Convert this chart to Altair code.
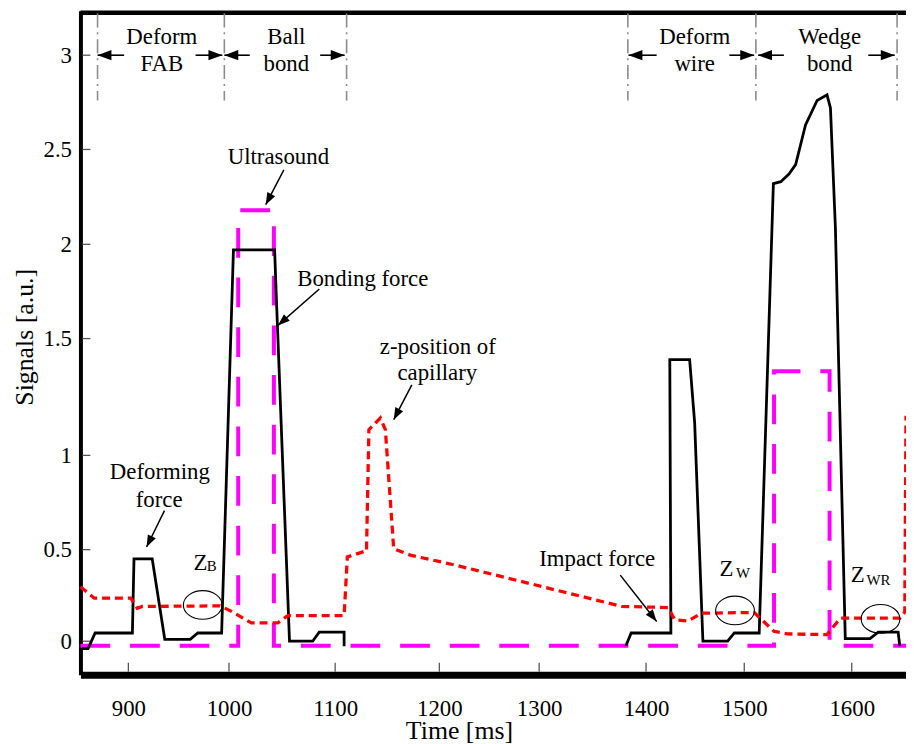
import altair as alt
import pandas as pd

FONT = "Liberation Serif"

# ---------------- data (time in ms, signal in a.u.) ----------------
# Bonding force (black solid); seg splits the two bonding cycles
bond_t = [854, 860, 867, 904, 905.6, 923.7, 936.2, 961.5, 969, 992.7, 1004.2, 1043, 1044.2, 1057, 1078.8, 1085, 1108.6, 1108.6,
          1381.2, 1386.1, 1425.3, 1424.2, 1444.4, 1449.5, 1457.9, 1483.1, 1489.9, 1513.9, 1527.1, 1534, 1541.6, 1547.8,
          1557, 1567.8, 1577, 1580.2, 1584.8, 1594, 1617, 1624.7, 1643.2, 1644.7]
bond_v = [-0.04, -0.04, 0.045, 0.045, 0.45, 0.45, 0.01, 0.01, 0.045, 0.045, 1.97, 1.97, 1.78, 0.0, 0.0, 0.05, 0.05, -0.027,
          -0.024, 0.045, 0.045, 1.41, 1.41, 1.14, 0.0, 0.0, 0.045, 0.045, 2.32, 2.33, 2.37, 2.42,
          2.63, 2.76, 2.79, 2.72, 2.09, 0.014, 0.014, 0.05, 0.05, -0.025]
bond_seg = [0] * 18 + [1] * 24

# Ultrasound (magenta dashed)
us_t = [852.4, 1008.7, 1008.7, 1042.3, 1042.3, 1527.7, 1527.7, 1579.4, 1579.4, 1650.5]
us_v = [-0.024, -0.024, 2.18, 2.18, -0.024, -0.024, 1.36, 1.36, -0.024, -0.024]

# z-position of capillary (red dotted)
z_t = [852.4, 866.2, 902.4, 908.9, 913.8, 991.1, 1002.4, 1021.1, 1046, 1055.4,
       1108.6, 1111.7, 1127.6, 1130.1, 1132.4, 1143.4, 1148.2, 1156.2, 1172, 1216.5,
       1377.4, 1422.5, 1429.3, 1442.7, 1456.3, 1509.2, 1527.7, 1540, 1577, 1589.4,
       1644.8, 1649.4, 1650.5]
z_v = [0.298, 0.235, 0.235, 0.18, 0.19, 0.193, 0.163, 0.10, 0.10, 0.14,
       0.14, 0.46, 0.49, 0.49, 1.11, 1.16, 1.11, 0.505, 0.47, 0.415,
       0.19, 0.184, 0.117, 0.11, 0.153, 0.157, 0.054, 0.04, 0.036, 0.126,
       0.126, 0.16, 1.17]

# phase boundaries (dash-dot gray) and phase labels
phase_t = [869.4, 995.4, 1111, 1383, 1510.8, 1642.2]
phase_top = 3.22
phase_bottom = 2.76
phase_label_t = [933.2, 933.2, 1054, 1054, 1449.5, 1449.5, 1579.5, 1579.5]
phase_label_v = [3.058, 2.918, 3.058, 2.918, 3.058, 2.918, 3.058, 2.918]
phase_label = ["Deform", "FAB", "Ball", "bond", "Deform", "wire", "Wedge", "bond"]
phase_arrow_tip = [869.4, 993.4, 995.4, 1109.1, 1383.6, 1509.2, 1512.9, 1640]
phase_arrow_tail = [895.8, 966.8, 1019.6, 1085.9, 1410.8, 1484.8, 1536.9, 1615.4]
phase_arrow_v = 3.0
phase_arrow_angle = [0, 180, 0, 180, 0, 180, 0, 180]

# callout texts
call_text = ["Ultrasound", "Bonding force", "z-position of", "capillary", "Deforming", "force", "Impact force"]
call_t = [1046.5, 1126.5, 1198.5, 1198.1, 931.3, 930.6, 1354.3]
call_v = [2.424, 1.781, 1.436, 1.323, 0.874, 0.725, 0.412]
# callout arrows tail -> tip
arr_t = [1051.7, 1085.1, 1173.6, 935.9, 1375.9]
arr_v = [2.392, 1.763, 1.302, 0.707, 0.361]
arr_t2 = [1034.6, 1046.1, 1156.2, 918.1, 1410.8]
arr_v2 = [2.209, 1.57, 1.153, 0.514, 0.108]
arr_angle = [297.6, 318.7, 297.6, 296.2, 231.8]

# Z markers
zmain_t = [964.8, 1474.7, 1599.1]
zmain_v = [0.388, 0.358, 0.321]
zsub_text = ["B", "W", "WR"]
zsub_t = [977.9, 1491.6, 1613.8]
zsub_v = [0.381, 0.343, 0.305]
ell_t = [973.9, 1490.6, 1626.8]
ell_v = [0.198, 0.168, 0.122]

X_TICKS = [900, 1000, 1100, 1200, 1300, 1400, 1500, 1600]
Y_TICKS = [0, 0.5, 1, 1.5, 2, 2.5, 3]

# piecewise scales reproducing the original figure's tick placement
X_DOMAIN = [852.4, 900, 1000, 1100, 1200, 1300, 1400, 1500, 1600, 1650.5]
X_RANGE = [0, 48.3, 149.7, 256.7, 361.7, 462.3, 570, 669, 777.3, 832]
Y_DOMAIN = [-0.18, 0, 0.5, 1, 1.5, 2, 2.5, 3, 3.234]
Y_RANGE = [669, 635.3, 543, 448, 330.3, 235.3, 139.7, 44.7, 0]

W, H = 832, 669

# ---------------- encodings ----------------
x_scale = alt.Scale(domain=X_DOMAIN, range=X_RANGE, nice=False, zero=False)
y_scale = alt.Scale(domain=Y_DOMAIN, range=Y_RANGE, nice=False, zero=False)

x_axis = alt.Axis(title="Time [ms]", values=X_TICKS, format="d", grid=False, ticks=False, tickSize=0,
                  domainColor="black", domainWidth=7, labelFont=FONT, labelFontSize=23, labelColor="black",
                  labelPadding=41, labelBaseline="alphabetic", labelFlush=False, labelOverlap=False,
                  titleFont=FONT, titleFontSize=26, titleFontWeight="normal", titleColor="black",
                  titleX=381.5, titleY=64, titleBaseline="alphabetic", titleAlign="center")
y_axis = alt.Axis(title="Signals [a.u.]", values=Y_TICKS, format="~g", grid=False, ticks=False, tickSize=0,
                  domainColor="black", domainWidth=4, labelFont=FONT, labelFontSize=23, labelColor="black",
                  labelPadding=9, labelFlush=False, labelOverlap=False,
                  titleFont=FONT, titleFontSize=26, titleFontWeight="normal", titleColor="black",
                  titleX=-48, titleY=328.5, titleAngle=270, titleBaseline="alphabetic", titleAlign="center")


def ex(field="t"):
    return alt.X(f"{field}:Q", scale=x_scale, axis=x_axis)


def ey(field="v"):
    return alt.Y(f"{field}:Q", scale=y_scale, axis=y_axis)


ARROW = "M 0 0 L 1 -0.37 L 1 0.37 Z"
ELLIPSE = "M -1 0 A 1 0.74 0 1 1 1 0 A 1 0.74 0 1 1 -1 0 Z"

# ---------------- tables ----------------
bond_df = pd.DataFrame({"t": bond_t, "v": bond_v, "seg": bond_seg, "i": range(len(bond_t))})
us_df = pd.DataFrame({"t": us_t, "v": us_v, "i": range(len(us_t))})
z_df = pd.DataFrame({"t": z_t, "v": z_v, "i": range(len(z_t))})
phase_df = pd.DataFrame({"t": phase_t, "v": [phase_top] * len(phase_t), "v2": [phase_bottom] * len(phase_t)})
phase_lab_df = pd.DataFrame({"t": phase_label_t, "v": phase_label_v, "txt": phase_label})
phase_arr_df = pd.DataFrame({"t": phase_arrow_tail, "t2": phase_arrow_tip,
                             "v": [phase_arrow_v] * len(phase_arrow_tip)})
phase_head_df = pd.DataFrame({"t": phase_arrow_tip, "v": [phase_arrow_v] * len(phase_arrow_tip),
                              "a": phase_arrow_angle})
call_df = pd.DataFrame({"t": call_t, "v": call_v, "txt": call_text})
arr_df = pd.DataFrame({"t": arr_t, "v": arr_v, "t2": arr_t2, "v2": arr_v2})
head_df = pd.DataFrame({"t": arr_t2, "v": arr_v2, "a": arr_angle})
zmain_df = pd.DataFrame({"t": zmain_t, "v": zmain_v, "txt": ["Z"] * 3})
zsub_df = pd.DataFrame({"t": zsub_t, "v": zsub_v, "txt": zsub_text})
ell_df = pd.DataFrame({"t": ell_t, "v": ell_v})
xt_df = pd.DataFrame({"t": X_TICKS})
yt_df = pd.DataFrame({"v": Y_TICKS})

# ---------------- layers ----------------
top_frame = alt.Chart(pd.DataFrame({"k": [0]})).mark_rule(color="black", strokeWidth=4.5).encode(
    x=alt.value(0), x2=alt.value(W), y=alt.value(2))
xticks = alt.Chart(xt_df).mark_rule(color="#555555", strokeWidth=1.3).encode(
    x=ex(), y=alt.value(H - 3), y2=alt.value(H - 12))
yticks = alt.Chart(yt_df).mark_rule(color="#555555", strokeWidth=1.3).encode(
    y=ey(), x=alt.value(2), x2=alt.value(10))

phase_lines = alt.Chart(phase_df).mark_rule(color="#8c8c8c", strokeWidth=1.6, strokeDash=[14, 5, 2, 5]).encode(
    x=ex(), y=ey(), y2="v2:Q")
phase_labels = alt.Chart(phase_lab_df).mark_text(font=FONT, fontSize=23, color="black", align="center",
                                                 baseline="alphabetic").encode(x=ex(), y=ey(), text="txt:N")
phase_arrows = alt.Chart(phase_arr_df).mark_rule(color="black", strokeWidth=1.6).encode(
    x=ex(), x2="t2:Q", y=ey())
phase_heads = alt.Chart(phase_head_df).mark_point(shape=ARROW, filled=True, color="black", opacity=1,
                                                  size=784).encode(x=ex(), y=ey(), angle=alt.Angle("a:Q", scale=None))

ultra = alt.Chart(us_df).mark_line(color="#ff00ff", strokeWidth=4, strokeDash=[30, 20]).encode(
    x=ex(), y=ey(), order="i:Q")
bond = alt.Chart(bond_df).mark_line(color="black", strokeWidth=2.8, strokeJoin="miter").encode(
    x=ex(), y=ey(), detail="seg:N", order="i:Q")
zpos = alt.Chart(z_df).mark_line(color="#ff0000", strokeWidth=3.3, strokeDash=[8, 5]).encode(
    x=ex(), y=ey(), order="i:Q")

callouts = alt.Chart(call_df).mark_text(font=FONT, fontSize=23, color="black", align="center",
                                        baseline="alphabetic").encode(x=ex(), y=ey(), text="txt:N")
arrows = alt.Chart(arr_df).mark_rule(color="black", strokeWidth=1.5).encode(
    x=ex(), y=ey(), x2="t2:Q", y2="v2:Q")
heads = alt.Chart(head_df).mark_point(shape=ARROW, filled=True, color="black", opacity=1, size=576).encode(
    x=ex(), y=ey(), angle=alt.Angle("a:Q", scale=None))
zmain = alt.Chart(zmain_df).mark_text(font=FONT, fontSize=23, color="black", align="left",
                                      baseline="alphabetic").encode(x=ex(), y=ey(), text="txt:N")
zsub = alt.Chart(zsub_df).mark_text(font=FONT, fontSize=15, color="black", align="left",
                                    baseline="alphabetic").encode(x=ex(), y=ey(), text="txt:N")
ellipses = alt.Chart(ell_df).mark_point(shape=ELLIPSE, filled=False, color="black", strokeWidth=1.1,
                                        opacity=1, size=1521).encode(x=ex(), y=ey())

chart = alt.layer(
    top_frame, xticks, yticks, phase_lines, phase_arrows, phase_heads, phase_labels,
    ultra, bond, zpos, arrows, heads, callouts, zmain, zsub, ellipses
).properties(
    width=W, height=H,
    autosize=alt.AutoSizeParams(type="none"),
    padding={"left": 73, "top": 0, "right": 0, "bottom": 67},
).configure_view(stroke=None).configure_axis(
    labelFont=FONT, titleFont=FONT, labelFontSize=23, titleFontSize=26
).configure_text(font=FONT)

chart.save("out.html", embed_options={"renderer": "svg", "actions": False})
